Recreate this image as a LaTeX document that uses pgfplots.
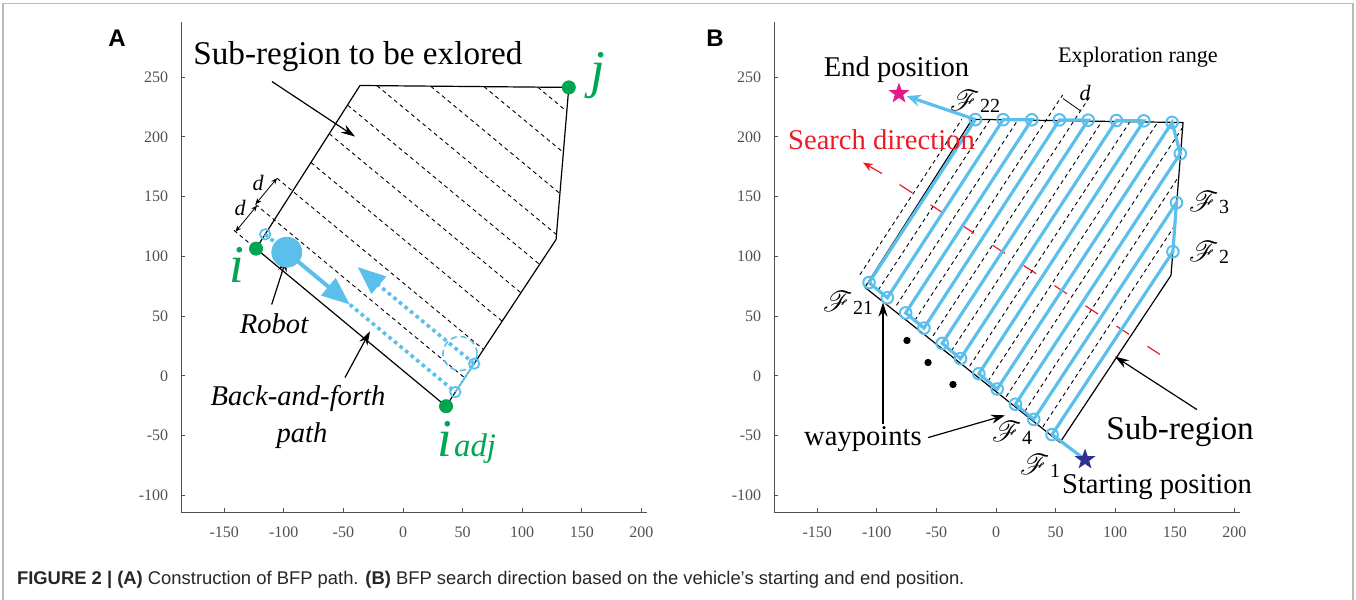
\documentclass[border=0pt]{standalone}
\usepackage{pgfplots}
\pgfplotsset{compat=1.18}
\usepackage{fontspec}
\setmainfont{Liberation Serif}
\setsansfont{Liberation Sans}
\usepackage{mathrsfs}
\usetikzlibrary{arrows.meta}
\definecolor{bfpblue}{HTML}{5BBFEC}
\definecolor{igreen}{HTML}{00A651}
\definecolor{spink}{HTML}{E6198A}
\definecolor{snavy}{HTML}{2E3192}
\definecolor{sred}{HTML}{ED1C24}
\definecolor{axgray}{HTML}{505050}
\pgfdeclareplotmark{fstar}{%
  \pgfpathmoveto{\pgfpointpolar{90}{\pgfplotmarksize}}%
  \pgfpathlineto{\pgfpointpolar{126}{0.4\pgfplotmarksize}}%
  \pgfpathlineto{\pgfpointpolar{162}{\pgfplotmarksize}}%
  \pgfpathlineto{\pgfpointpolar{198}{0.4\pgfplotmarksize}}%
  \pgfpathlineto{\pgfpointpolar{234}{\pgfplotmarksize}}%
  \pgfpathlineto{\pgfpointpolar{270}{0.4\pgfplotmarksize}}%
  \pgfpathlineto{\pgfpointpolar{306}{\pgfplotmarksize}}%
  \pgfpathlineto{\pgfpointpolar{342}{0.4\pgfplotmarksize}}%
  \pgfpathlineto{\pgfpointpolar{18}{\pgfplotmarksize}}%
  \pgfpathlineto{\pgfpointpolar{54}{0.4\pgfplotmarksize}}%
  \pgfpathclose\pgfusepathqfill}
\newcommand\fbig{\fontsize{16.6}{18}\selectfont}
\newcommand\fmid{\fontsize{14.3}{16}\selectfont}
\newcommand\fsmall{\fontsize{11.1}{13}\selectfont}
\newcommand\fgreen{\fontsize{26.5}{28}\selectfont}
\newcommand\Fl[1]{{\fontsize{13.5}{15}\selectfont$\mathscr{F}$\kern0.3pt\raisebox{-1.2pt}{\fontsize{10}{11}\selectfont #1}}}
\pgfplotsset{bfp/.style={
  scale only axis, x=0.596pt, y=0.5975pt,
  xmin=-186, xmax=205, ymin=-114, ymax=296,
  axis lines*=left, axis line style={axgray, line width=0.5pt},
  tick align=inside, major tick length=2pt, tick style={axgray, line width=0.5pt},
  xtick={-150,-100,...,200}, ytick={-100,-50,...,250},
  ticklabel style={font=\fontsize{8}{9}\selectfont, text=axgray},
  /pgf/number format/assume math mode=true,
  xticklabel style={yshift=-4pt},
  yticklabel style={xshift=-3pt},
  clip=false, anchor=south west,
}}
\tikzset{dsh/.style={black, line width=0.45pt, dash pattern=on 2pt off 1.7pt},
  blk/.style={black, line width=0.6pt},
  arr/.style={black, line width=0.6pt, -{Stealth[length=7pt,width=4.5pt]}},
  bdot/.style={bfpblue, line width=1.8pt, dash pattern=on 1.8pt off 1.8pt},
  flab/.style={inner sep=0pt}}
\begin{document}
\begin{tikzpicture}
\useasboundingbox (0,0) rectangle (678pt,300pt);
\draw[gray!55, line width=0.6pt] (1.5pt,-2pt) -- (1.5pt,298.3pt) -- (676.5pt,298.3pt) -- (676.5pt,-2pt);
\node[font=\sffamily\bfseries\fontsize{12}{14}\selectfont] at (58.5pt,281pt) {A};
\node[font=\sffamily\bfseries\fontsize{12}{14}\selectfont] at (357.5pt,281pt) {B};
\node[anchor=west, font=\sffamily\fontsize{9.2}{11}\selectfont, text=black!85] at (5pt,10pt) {\textbf{FIGURE 2 | (A)} Construction of BFP path. \textbf{(B)} BFP search direction based on the vehicle’s starting and end position.};
% ---------------- Panel A ----------------
\begin{axis}[bfp, at={(90.65pt,44pt)}]
\addplot[dsh] coordinates {(-141.8,121.7) (-123.3,106.4)};
\addplot[dsh] coordinates {(-123.75,143.5) (51.8,-1.8)};
\addplot[dsh] coordinates {(-105.7,165.3) (67.5,22.0)};
\addplot[dsh] coordinates {(-77.2,178.4) (83.2,45.7)};
\addplot[dsh] coordinates {(-61.8,202.5) (99.0,69.4)};
\addplot[dsh] coordinates {(-46.5,226.5) (114.7,93.1)};
\addplot[dsh] coordinates {(-21.8,242.7) (128.7,118.2)};
\addplot[dsh] coordinates {(23.2,242.3) (131.7,152.5)};
\addplot[dsh] coordinates {(68.0,241.9) (134.5,186.9)};
\addplot[dsh] coordinates {(113.0,241.5) (137.4,221.3)};
\addplot[blk] coordinates {(-123.3,106.4) (-36.1,242.9) (139.1,241.3) (128.4,114.0) (36.1,-25.5) (-123.3,106.4)};
% blue path
\addplot[bdot] coordinates {(-115.6,118.4) (-97.5,103.4)};
\addplot[bdot] coordinates {(-44.6,59.6) (43.9,-13.6)};
\addplot[bfpblue, line width=0.8pt] coordinates {(43.9,-13.6) (59.7,10.1)};
\addplot[bdot] coordinates {(59.7,10.1) (-22,77.2)};
\addplot[bfpblue, line width=2pt, -{Triangle[length=14pt,width=11pt]}] coordinates {(-97.5,103.4) (-44.6,59.6)};
\addplot[bfpblue, line width=2pt, -{Triangle[length=14pt,width=11pt]}] coordinates {(-24,79) (-38.1,91.0)};
\draw[bfpblue, line width=0.8pt, dash pattern=on 3pt off 2pt] (47.8,18.6) circle[radius=8.5pt];
\addplot[only marks, mark=o, mark size=2.6pt, bfpblue, mark options={line width=0.9pt, fill=white}] coordinates {(-115.6,118.4) (43.9,-13.6) (59.7,10.1)};
\addplot[only marks, mark=*, mark size=7.5pt, bfpblue] coordinates {(-97.5,103.4)};
\addplot[only marks, mark=*, mark size=3.3pt, igreen] coordinates {(-123.3,106.4) (139.1,241.3) (36.1,-25.5)};
% annotations
\node[font=\fbig] at (-37.8,267.1) {Sub-region to be exlored};
\addplot[arr] coordinates {(-109.9,246.2) (-40.3,200.2)};
\node[font=\fgreen\itshape, text=igreen, anchor=base] at (163.6,241.2) {j};
\node[font=\fgreen\itshape, text=igreen, anchor=base] at (-139.3,78.0) {i};
\node[font=\fgreen\itshape, text=igreen, anchor=base west, inner sep=0pt] at (28.5,-67.6) {i\kern1pt{\fontsize{16.4}{18}\selectfont adj}};
\node[font=\fontsize{11}{13}\selectfont\itshape] at (-121.6,161.7) {d};
\node[font=\fontsize{11}{13}\selectfont\itshape] at (-136.7,140.8) {d};
\addplot[black, line width=0.4pt, {Stealth[length=3pt,width=2.5pt]}-{Stealth[length=3pt,width=2.5pt]}] coordinates {(-140.5,120.6) (-122.5,142.4)};
\addplot[black, line width=0.4pt, {Stealth[length=3pt,width=2.5pt]}-{Stealth[length=3pt,width=2.5pt]}] coordinates {(-123.8,143.5) (-105.7,165.3)};
\node[font=\fmid\itshape] at (-108.2,43.3) {Robot};
\addplot[arr] coordinates {(-110.2,59.6) (-97.6,98.7)};
\node[font=\fmid\itshape] at (-88.1,-19.4) {Back-and-forth};
\node[font=\fmid\itshape] at (-84.7,-50.0) {path};
\addplot[arr] coordinates {(-48.7,-1.5) (-27.7,37.2)};
\end{axis}
% ---------------- Panel B ----------------
\begin{axis}[bfp, at={(387.15pt,44pt)}]
\addplot[dsh] coordinates {(39.3,-42.8) (150.1,125.9)};
\addplot[dsh] coordinates {(24.0,-30.1) (153.3,166.7)};
\addplot[dsh] coordinates {(8.6,-17.4) (156.6,207.9)};
\addplot[dsh] coordinates {(-6.7,-4.6) (135.7,212.2)};
\addplot[dsh] coordinates {(-22.1,8.1) (112.3,212.5)};
\addplot[dsh] coordinates {(-37.4,20.8) (88.8,212.9)};
\addplot[dsh] coordinates {(-52.8,33.5) (79.6,235)};
\addplot[dsh] coordinates {(-68.1,46.3) (55.9,235)};
\addplot[dsh] coordinates {(-83.5,59.0) (18.3,214.0)};
\addplot[dsh] coordinates {(-98.8,71.7) (-5.1,214.3)};
\addplot[dsh] coordinates {(-114.2,84.5) (-28.7,214.6)};
\addplot[blk] coordinates {(-110,74) (-20,214.6) (156.9,211.9) (146.8,84) (53.7,-55.8) (-110,74)};
\addplot[black, line width=0.4pt] coordinates {(56.2,232.0) (70.5,222.0)};
% red search direction
\addplot[sred, line width=0.6pt, dash pattern=on 7.5pt off 11pt] coordinates {(137.6,17.8) (-84,162)};
\addplot[sred, line width=0.6pt, -{Stealth[length=5pt,width=4pt]}] coordinates {(-95.6,169.2) (-111.6,178.4)};
% blue path
\addplot[bfpblue, line width=1.6pt] coordinates {(74.7,-70.1) (47.0,-49.2)};
\addplot[bfpblue, line width=1.6pt, -{Stealth[length=7pt,width=6pt]}, shorten >=4pt] coordinates {(-17.3,214.4) (-81.4,236.2)};
\addplot[bfpblue, line width=1.6pt, mark=o, mark size=2.9pt, mark options={line width=1pt, fill=white}] coordinates {
(47.0,-49.2) (148.4,103.9) (151.4,144.9) (31.65,-36.5) (16.3,-23.8) (154.6,185.9) (147.7,212.0) (0.95,-11.1)
(-14.4,1.7) (124.0,213.3) (101.0,213.6) (-29.75,14.4) (-45.1,27.1) (77.3,213.9) (53.2,214.1) (-60.45,39.9)
(-75.8,52.6) (30.0,214.2) (6.0,214.3) (-91.15,65.3) (-106.5,78.0) (-17.3,214.4)};
\addplot[only marks, mark=fstar, mark size=5.5pt, spink] coordinates {(-81.4,236.2)};
\addplot[only marks, mark=fstar, mark size=5.5pt, snavy] coordinates {(74.7,-70.1)};
\addplot[only marks, mark=*, mark size=1.6pt, black] coordinates {(-74.7,29.5) (-57.0,11.1) (-36.1,-7.3)};
% annotations
\node[font=\fmid] at (-83.5,256.2) {End position};
\node[font=\fmid, text=sred] at (-96.1,197.7) {Search direction};
\node[font=\fsmall] at (119.1,266.8) {Exploration range};
\node[font=\fontsize{11}{13}\selectfont\itshape] at (74.7,237.0) {d};
\node[flab] at (-17.6,229.6) {\Fl{22}};
\node[flab] at (-124.2,61.0) {\Fl{21}};
\node[flab, anchor=west] at (161.5,145.0) {\Fl{3}};
\node[flab, anchor=west] at (161.5,103.1) {\Fl{2}};
\node[flab] at (13.4,-47.9) {\Fl{4}};
\node[flab] at (36.9,-75.3) {\Fl{1}};
\node[font=\fmid] at (-111.6,-53.4) {waypoints};
\addplot[arr] coordinates {(-56.9,-51.7) (7.6,-33.1)};
\addplot[arr] coordinates {(-94.8,-40.3) (-94.8,61.3)};
\node[font=\fbig] at (154.4,-46.7) {Sub-region};
\addplot[arr] coordinates {(168.6,-28.3) (99.8,16.1)};
\node[font=\fmid] at (135.1,-93.5) {Starting position};
\end{axis}
\end{tikzpicture}
\end{document}
